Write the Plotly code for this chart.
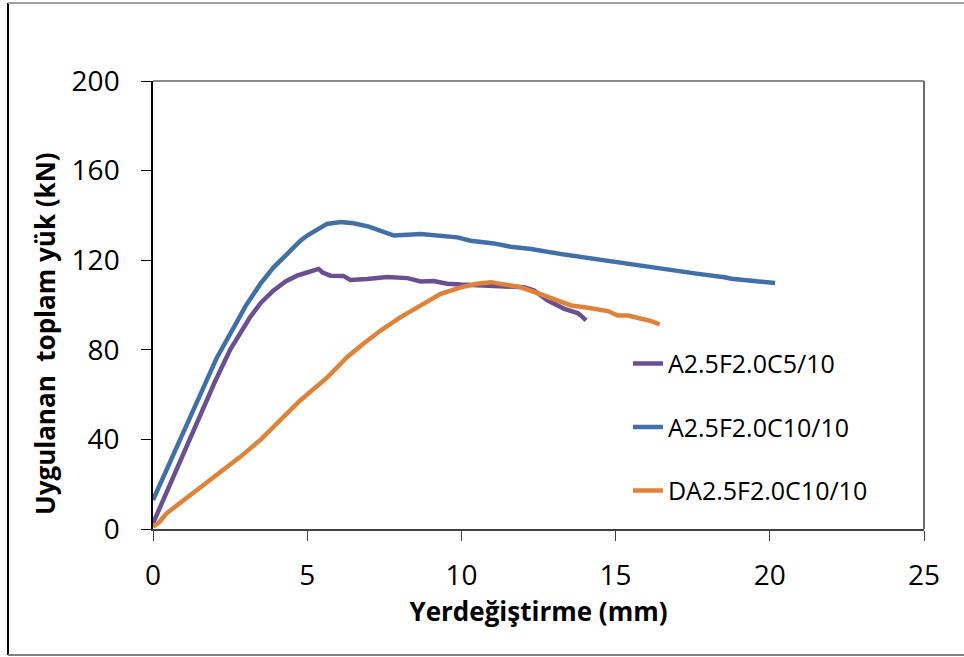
import plotly.graph_objects as go

# ---- data ----
purple_name = "A2.5F2.0C5/10"
purple_x = [0, 0.5, 1.0, 1.5, 2.0, 2.5, 3.15, 3.5, 3.91, 4.3, 4.67, 5.0, 5.37, 5.5, 5.75, 6.17, 6.4,
            6.94, 7.59, 8.25, 8.68, 9.1, 9.54, 9.98, 10.84, 11.5, 12.04, 12.36, 12.8, 13.34, 13.77, 13.93, 14.04]
purple_y = [2.5, 18.5, 34, 50, 65.5, 80, 94.6, 101, 106.5, 110.5, 113.1, 114.5, 116.1, 114.5, 113.1, 113, 111.2,
            111.6, 112.5, 112, 110.5, 110.7, 109.5, 109.1, 108.5, 108.5, 107.9, 106.5, 102, 98.3, 96.4, 94.6, 93.1]

blue_name = "A2.5F2.0C10/10"
blue_x = [0, 0.5, 1.0, 1.37, 1.74, 2.07, 2.72, 3.0, 3.48, 3.91, 4.24, 4.78, 5.0, 5.43, 5.64, 6.08, 6.5,
          7.0, 7.5, 7.81, 8.68, 9.33, 9.87, 10.3, 11.05, 11.6, 12.26, 13.34, 14.53, 14.96, 15.6, 16.8,
          17.68, 18.53, 18.76, 20.17]
blue_y = [12.9, 28, 43.5, 55, 66, 76.5, 92.5, 99.5, 109.4, 116.8, 121.3, 128.7, 131, 134.6, 136.2, 137, 136.5,
          135, 132.5, 131, 131.7, 130.8, 130.2, 128.7, 127.5, 126, 125, 122.5, 120.1, 119, 117.6, 115.4,
          113.9, 112.4, 111.7, 109.8]

orange_name = "DA2.5F2.0C10/10"
orange_x = [0, 0.2, 0.44, 1.0, 1.74, 2.83, 3.5, 4.13, 4.78, 5.64, 6.29, 6.8, 7.38, 8.03, 8.68, 9.33, 9.98,
            10.5, 10.96, 11.39, 11.93, 12.69, 13.56, 14.1, 14.75, 15.07, 15.4, 15.8, 16.16, 16.43]
orange_y = [1, 3, 7, 13, 20.3, 32.2, 40, 48.5, 57.5, 67.5, 76.7, 82.5, 88.6, 94.6, 99.8, 105, 107.9,
            109.5, 110.2, 109.1, 107.9, 104.2, 99.8, 98.8, 97.3, 95.3, 95.3, 94, 92.8, 91.3]

x_ticks = [0, 5, 10, 15, 20, 25]
y_ticks = [0, 40, 80, 120, 160, 200]

x_title = "Yerdeğiştirme (mm)"
y_title = "Uygulanan\u00a0 toplam yük (kN)"

FONT = "Open Sans"

fig = go.Figure()
series = [
    (purple_name, purple_x, purple_y, "#6A5091"),
    (blue_name, blue_x, blue_y, "#4070A7"),
    (orange_name, orange_x, orange_y, "#E08237"),
]
for i, (name, xs, ys, col) in enumerate(series):
    fig.add_trace(go.Scatter(x=xs, y=ys, name=name, mode="lines",
                             line=dict(color=col, width=4.5),
                             legendgroup=f"g{i}"))

fig.update_layout(
    width=964, height=657,
    margin=dict(l=153, r=40, t=81, b=128),
    paper_bgcolor="white", plot_bgcolor="white",
    font=dict(family=FONT, color="black"),
    showlegend=True,
    legend=dict(x=0.616, y=0.42, xanchor="left", yanchor="top",
                font=dict(family=FONT, size=25, color="black"),
                tracegroupgap=28, bgcolor="rgba(0,0,0,0)"),
    xaxis=dict(range=[0, 25], tickvals=x_ticks, ticks="outside", ticklen=10, tickwidth=1.2,
               tickcolor="#404040", showline=True, linecolor="#404040", linewidth=2,
               showgrid=False, zeroline=False, tickfont=dict(size=28, family=FONT),
               ticklabelstandoff=10,
               title=dict(text=x_title, font=dict(size=26, family=FONT, weight="bold"), standoff=4)),
    yaxis=dict(range=[0, 200], tickvals=y_ticks, ticks="outside", ticklen=10, tickwidth=1.2,
               tickcolor="black", showline=True, linecolor="black", linewidth=1.5,
               showgrid=False, zeroline=False, tickfont=dict(size=28, family=FONT),
               ticklabelstandoff=16),
)

fig.add_annotation(text=y_title, textangle=-90, xref="paper", yref="paper",
                   x=(45 - 153) / 771, y=(529 - 334) / 448, xanchor="center", yanchor="middle",
                   showarrow=False,
                   font=dict(size=26, family=FONT, weight="bold", color="black"))

# plot-area top and right borders
fig.add_shape(type="line", xref="paper", yref="paper", x0=0, x1=1, y0=1, y1=1,
              line=dict(color="#8a8a8a", width=2))
fig.add_shape(type="line", xref="paper", yref="paper", x0=1, x1=1, y0=0, y1=1,
              line=dict(color="#6a6a6a", width=2))
# outer frame
fig.add_shape(type="line", xref="paper", yref="paper", x0=(8 - 153) / 771, x1=(8 - 153) / 771,
              y0=(529 - 3) / 448, y1=(529 - 655) / 448, line=dict(color="black", width=2))
fig.add_shape(type="line", xref="paper", yref="paper", x0=(8 - 153) / 771, x1=(964 - 153) / 771,
              y0=(529 - 3) / 448, y1=(529 - 3) / 448, line=dict(color="#a0a0a0", width=2))
fig.add_shape(type="line", xref="paper", yref="paper", x0=(8 - 153) / 771, x1=(964 - 153) / 771,
              y0=(529 - 655) / 448, y1=(529 - 655) / 448, line=dict(color="#808080", width=2))

fig.write_html("out.html", config={"displayModeBar": False},
               post_script="document.body.style.margin='0';")
